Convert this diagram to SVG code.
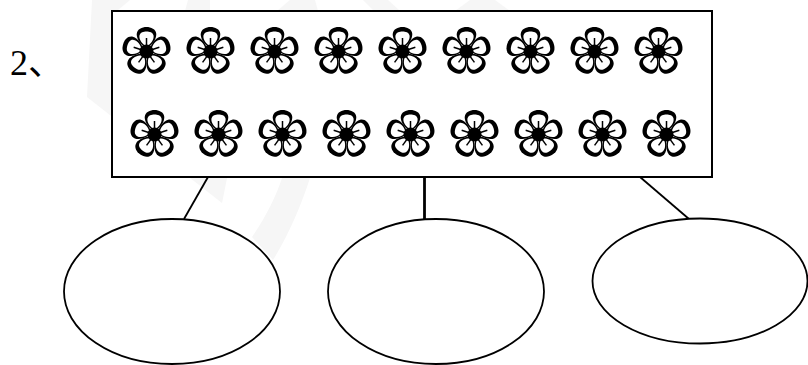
<svg xmlns="http://www.w3.org/2000/svg" width="808" height="365" viewBox="0 0 808 365">
<style>
.box{fill:#fff;stroke:#000;stroke-width:2}
.ell{fill:#fff;stroke:#000;stroke-width:1.800}
.wm{fill:#f6f6f6;stroke:none}
.conn{stroke:#000;fill:none;stroke-width:1.800}
.thick{stroke-width:2.800}
.lbl{font-family:"Liberation Serif","Noto Sans CJK SC",serif;font-size:36px;fill:#000}
</style>
<defs>
<g id="petal">
<path d="M0,-3C-5,-6 -10,-12 -9.800,-17.500C-9.300,-22.500 -4.500,-24.500 0,-24.500C4.500,-24.500 9.300,-22.500 9.800,-17.500C10,-12 5,-6 0,-3Z" fill="#000"/>
<path d="M0,-5C-4.500,-7.500 -7.800,-12 -7,-16C-6.300,-19.300 -3,-20 0,-20C3,-20 6.300,-19.300 7,-16C7.800,-12 4.500,-7.500 0,-5Z" fill="#fff"/>
<path d="M0,-3V-13.500" stroke="#000" stroke-width="1.500" fill="none"/>
</g>
<g id="flower">
<use href="#petal"/>
<use href="#petal" transform="rotate(72)"/>
<use href="#petal" transform="rotate(144)"/>
<use href="#petal" transform="rotate(216)"/>
<use href="#petal" transform="rotate(288)"/>
<circle r="7" fill="#000"/>
</g>
</defs>
<rect width="808" height="365" fill="#fff"/>
<g id="watermark">
<path class="wm" d="M92,0H130L112,15H227V178L222,203L87,97Z"/>
<path class="wm" d="M188,0H210V11H185Z"/>
<path class="wm" d="M282,178H310C301,206 288,236 273,260L252,237C265,218 276,197 282,178Z"/>
<path class="wm" d="M277,11L290,0H315L318,11Z"/>
<path class="wm" d="M363,0H388L400,11H374Z"/>
<path class="wm" d="M455,11L470,0H495L510,11Z"/>
</g>
<g id="connectors">
<line class="conn" x1="208" y1="177" x2="184" y2="219"/>
<line class="conn thick" x1="424.500" y1="177" x2="424.500" y2="219"/>
<line class="conn" x1="640" y1="177" x2="689" y2="219"/>
</g>
<g id="box">
<rect class="box" x="112" y="11" width="600" height="166"/>
<use href="#flower" x="146.500" y="51.500"/><use href="#flower" x="210.500" y="51.500"/><use href="#flower" x="274.500" y="51.500"/>
<use href="#flower" x="338.500" y="51.500"/><use href="#flower" x="402.500" y="51.500"/><use href="#flower" x="466.500" y="51.500"/>
<use href="#flower" x="530.500" y="51.500"/><use href="#flower" x="594.500" y="51.500"/><use href="#flower" x="658.500" y="51.500"/>
<use href="#flower" x="154.500" y="134.500"/><use href="#flower" x="218.500" y="134.500"/><use href="#flower" x="282.500" y="134.500"/>
<use href="#flower" x="346.500" y="134.500"/><use href="#flower" x="410.500" y="134.500"/><use href="#flower" x="474.500" y="134.500"/>
<use href="#flower" x="538.500" y="134.500"/><use href="#flower" x="602.500" y="134.500"/><use href="#flower" x="666.500" y="134.500"/>
</g>
<g id="ellipse-left"><ellipse class="ell" cx="172" cy="291.500" rx="108" ry="72.500"/></g>
<g id="ellipse-middle"><ellipse class="ell" cx="436" cy="291.500" rx="108" ry="72.500"/></g>
<g id="ellipse-right"><ellipse class="ell" cx="700" cy="281" rx="107.500" ry="62.500"/></g>
<g id="label"><text class="lbl" x="10" y="75">2、</text></g>
</svg>
